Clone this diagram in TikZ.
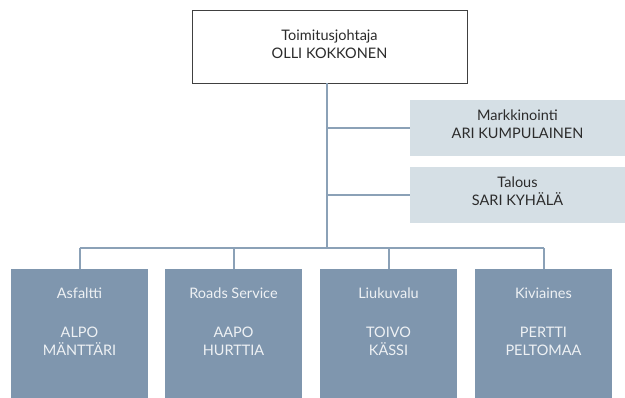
\documentclass[tikz,border=0pt]{standalone}
\usepackage{fontspec}
\setmainfont{Lato}
\definecolor{darkbox}{HTML}{7F96AE}
\definecolor{lightbox}{HTML}{D5DFE5}
\definecolor{conn}{HTML}{8BA1B7}
\definecolor{boxtext}{HTML}{EEF1F4}
\definecolor{dtext}{HTML}{2B2B2B}
\begin{document}
\begin{tikzpicture}[x=1pt,y=-1pt,
  topbox/.style={draw=dtext!90,line width=0.9pt,fill=white,minimum width=275pt,minimum height=73pt,inner sep=0pt},
  staffbox/.style={fill=lightbox,minimum width=215pt,minimum height=56pt,inner sep=0pt},
  unitbox/.style={fill=darkbox,minimum width=137pt,minimum height=129pt,inner sep=0pt},
  lbl/.style={font=\fontsize{14.5}{18}\selectfont,align=center,text=dtext,inner sep=0pt},
  ulbl/.style={lbl,text=boxtext,anchor=base},
  link/.style={draw=conn,line width=2pt}]
\useasboundingbox (0,0) rectangle (625,398);
% boxes
\node[topbox] (top) at (329.5,46.5) {};
\node[lbl,anchor=base] (topa) at (329.5,41) {Toimitusjohtaja};
\node[lbl,anchor=base] (topb) at (329.5,59) {OLLI KOKKONEN};
\node[staffbox] (mk) at (517.5,128) {};
\node[lbl,anchor=base] (mka) at (517.5,121) {Markkinointi};
\node[lbl,anchor=base] (mkb) at (517.5,139) {ARI KUMPULAINEN};
\node[staffbox] (ta) at (517.5,195) {};
\node[lbl,anchor=base] (taa) at (517.5,188) {Talous};
\node[lbl,anchor=base] (tab) at (517.5,206) {SARI KYHÄLÄ};
\node[unitbox] (u1) at (79.5,333.5) {};
\node[unitbox] (u2) at (233.5,333.5) {};
\node[unitbox] (u3) at (388.5,333.5) {};
\node[unitbox] (u4) at (543.5,333.5) {};
\node[ulbl] (u1a) at (u1 |- 0,299) {Asfaltti};
\node[ulbl] (u1b) at (u1 |- 0,338) {ALPO};
\node[ulbl] (u1c) at (u1 |- 0,356) {MÄNTTÄRI};
\node[ulbl] (u2a) at (u2 |- 0,299) {Roads Service};
\node[ulbl] (u2b) at (u2 |- 0,338) {AAPO};
\node[ulbl] (u2c) at (u2 |- 0,356) {HURTTIA};
\node[ulbl] (u3a) at (u3 |- 0,299) {Liukuvalu};
\node[ulbl] (u3b) at (u3 |- 0,338) {TOIVO};
\node[ulbl] (u3c) at (u3 |- 0,356) {KÄSSI};
\node[ulbl] (u4a) at (u4 |- 0,299) {Kiviaines};
\node[ulbl] (u4b) at (u4 |- 0,338) {PERTTI};
\node[ulbl] (u4c) at (u4 |- 0,356) {PELTOMAA};
% connectors
\coordinate (trunk) at (327,248);
\draw[link] (trunk |- top.south) -- (trunk);
\draw[link] (trunk |- mk.west) -- (mk.west);
\draw[link] (trunk |- ta.west) -- (ta.west);
\draw[link] (u1.north |- trunk) -- (u4.north |- trunk);
\draw[link] (u1.north |- trunk) -- (u1.north);
\draw[link] (u2.north |- trunk) -- (u2.north);
\draw[link] (u3.north |- trunk) -- (u3.north);
\draw[link] (u4.north |- trunk) -- (u4.north);
\end{tikzpicture}
\end{document}
